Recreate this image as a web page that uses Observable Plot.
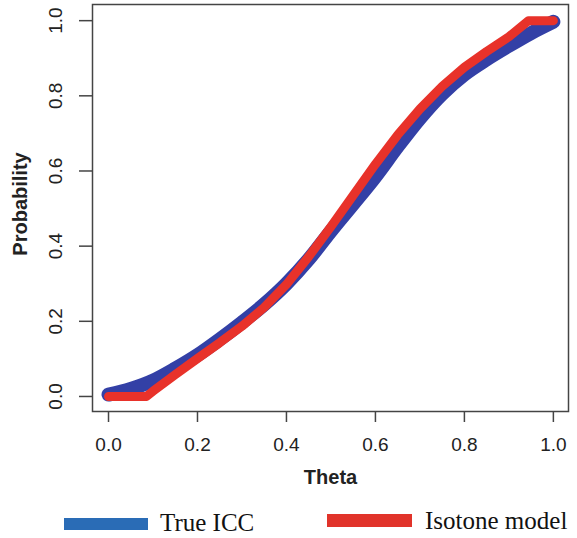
<!DOCTYPE html>
<html>
<head>
<meta charset="utf-8">
<script src="https://cdn.jsdelivr.net/npm/d3@7"></script>
<script src="https://cdn.jsdelivr.net/npm/@observablehq/plot@0.6"></script>
<style>
  html, body { margin: 0; padding: 0; background: #fff; }
  #wrap { position: relative; width: 577px; height: 538px; overflow: hidden; }
  #legend { position: absolute; left: 0; top: 500px; width: 577px; height: 38px; }
  .sw { position: absolute; }
  .lt { position: absolute; font-family: "Liberation Serif", "Times New Roman", serif; font-size: 25px; color: #111; line-height: 1; white-space: nowrap; }
</style>
</head>
<body>
<div id="wrap">
  <div id="chart"></div>
  <div id="legend"></div>
</div>
<script>
// True ICC (centre of the blue band)
const thetaTrue = [0, 0.05, 0.1, 0.15, 0.2, 0.25, 0.3, 0.35, 0.4, 0.45, 0.5, 0.55, 0.6, 0.65, 0.7, 0.75, 0.8, 0.85, 0.9, 0.95, 1.0];
const trueIcc   = [0.005, 0.02, 0.042, 0.074, 0.11, 0.152, 0.197, 0.245, 0.30, 0.365, 0.44, 0.512, 0.585, 0.665, 0.74, 0.805, 0.857, 0.897, 0.933, 0.967, 0.997];

// Isotone model estimate
const thetaIso = [0, 0.085, 0.1, 0.15, 0.2, 0.25, 0.3, 0.35, 0.4, 0.45, 0.5, 0.55, 0.6, 0.65, 0.7, 0.75, 0.8, 0.85, 0.9, 0.944, 1.0];
const isotone  = [0, 0, 0.014, 0.058, 0.101, 0.143, 0.187, 0.237, 0.298, 0.372, 0.452, 0.535, 0.618, 0.696, 0.765, 0.825, 0.876, 0.918, 0.957, 1.0, 1.0];

const xTicks = [0, 0.2, 0.4, 0.6, 0.8, 1.0];
const yTicks = [0, 0.2, 0.4, 0.6, 0.8, 1.0];

const seriesNames = ["True ICC", "Isotone model"];
const plotColors = ["#3340a6", "#e8322a"];
const legendColors = ["#2a6cb6", "#e1332a"];

const trueData = thetaTrue.map((t, i) => ({theta: t, p: trueIcc[i]}));
const isoData = thetaIso.map((t, i) => ({theta: t, p: isotone[i]}));

const chart = Plot.plot({
  width: 577,
  height: 500,
  marginLeft: 92,
  marginRight: 9,
  marginTop: 4,
  marginBottom: 89,
  x: {domain: [-0.036, 1.034]},
  y: {domain: [-0.04, 1.043]},
  style: {fontFamily: "'Liberation Sans', Arial, sans-serif", color: "#222", background: "white"},
  marks: [
    Plot.line(trueData, {x: "theta", y: "p", stroke: plotColors[0], strokeWidth: 14, curve: "monotone-x", strokeLinecap: "round", strokeLinejoin: "round"}),
    Plot.line(isoData, {x: "theta", y: "p", stroke: plotColors[1], strokeWidth: 9, curve: "linear", strokeLinecap: "round", strokeLinejoin: "round"}),
    Plot.frame({stroke: "#444", strokeWidth: 1.5}),
    Plot.axisX({ticks: xTicks, tickSize: 11, tickPadding: 15, tickFormat: d => d.toFixed(1), fontSize: 19, label: null, stroke: "#444", strokeWidth: 1.5}),
    Plot.axisY({ticks: yTicks, tickSize: 13, tickFormat: () => "", label: null, stroke: "#444", strokeWidth: 1.5}),
    Plot.text(yTicks, {y: d => d, frameAnchor: "left", dx: -37, rotate: -90, textAnchor: "middle", lineAnchor: "middle", text: d => d.toFixed(1), fontSize: 19}),
    Plot.text(["Probability"], {frameAnchor: "left", dx: -72, dy: -4, rotate: -90, textAnchor: "middle", lineAnchor: "middle", text: d => d, fontSize: 20, fontWeight: "bold"}),
    Plot.text(["Theta"], {frameAnchor: "bottom", dy: 66, textAnchor: "middle", lineAnchor: "middle", text: d => d, fontSize: 20, fontWeight: "bold"})
  ]
});
document.getElementById("chart").appendChild(chart);

// Legend below the chart
const legend = document.getElementById("legend");
const items = [
  {name: seriesNames[0], color: legendColors[0], sx: 64, sy: 18, sw: 84, sh: 12, tx: 160, ty: 10},
  {name: seriesNames[1], color: legendColors[1], sx: 327, sy: 14, sw: 85, sh: 13, tx: 425, ty: 8}
];
for (const it of items) {
  const s = document.createElement("div");
  s.className = "sw";
  Object.assign(s.style, {left: it.sx + "px", top: it.sy + "px", width: it.sw + "px", height: it.sh + "px", background: it.color});
  legend.appendChild(s);
  const t = document.createElement("div");
  t.className = "lt";
  t.textContent = it.name;
  Object.assign(t.style, {left: it.tx + "px", top: it.ty + "px"});
  legend.appendChild(t);
}
</script>
</body>
</html>
